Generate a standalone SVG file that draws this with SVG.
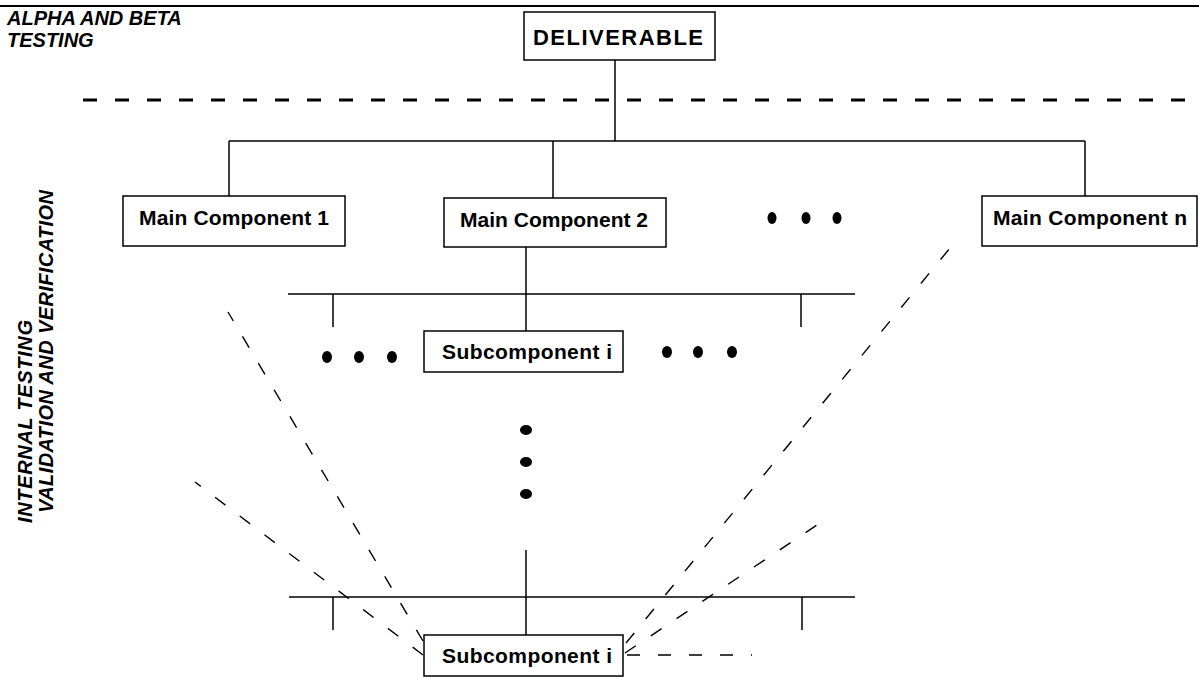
<svg xmlns="http://www.w3.org/2000/svg" width="1199" height="677" viewBox="0 0 1199 677">
<style>
.bg{fill:#fff}
.box{fill:#fff;stroke:#000;stroke-width:1.5}
.ln{stroke:#000;stroke-width:1.5;fill:none}
.dl{stroke:#000;stroke-width:1.4;fill:none;stroke-dasharray:13 18}
.tk{stroke:#000;stroke-width:3;fill:none;stroke-dasharray:14 18}
.t{font-family:"Liberation Sans",Arial,sans-serif;font-weight:bold;font-size:21px;fill:#000}
.big{font-size:22px}
.it{font-family:"Liberation Sans",Arial,sans-serif;font-weight:bold;font-style:italic;font-size:20px;fill:#000}
.dot{fill:#000}
</style>
<rect class="bg" x="0" y="0" width="1199" height="677"/>
<line x1="0" y1="6" x2="1199" y2="6" stroke="#000" stroke-width="2"/>
<line class="tk" x1="83" y1="100" x2="1199" y2="100"/>
<g id="labels">
<text class="it" x="7" y="25">ALPHA AND BETA</text>
<text class="it" x="7" y="47">TESTING</text>
<text class="it" transform="translate(32,523) rotate(-90)" textLength="203" lengthAdjust="spacing">INTERNAL TESTING</text>
<text class="it" transform="translate(53,513) rotate(-90)" textLength="323" lengthAdjust="spacing">VALIDATION AND VERIFICATION</text>
</g>
<g id="connectors">
<line class="ln" x1="615" y1="60" x2="615" y2="141"/>
<line class="ln" x1="229" y1="141" x2="1085" y2="141"/>
<line class="ln" x1="229" y1="141" x2="229" y2="196"/>
<line class="ln" x1="553" y1="141" x2="553" y2="198"/>
<line class="ln" x1="1085" y1="141" x2="1085" y2="196"/>
<line class="ln" x1="526" y1="247" x2="526" y2="331"/>
<line class="ln" x1="288" y1="294" x2="855" y2="294"/>
<line class="ln" x1="333" y1="294" x2="333" y2="327"/>
<line class="ln" x1="801" y1="294" x2="801" y2="327"/>
<line class="ln" x1="526" y1="550" x2="526" y2="635"/>
<line class="ln" x1="289" y1="597" x2="855" y2="597"/>
<line class="ln" x1="333" y1="597" x2="333" y2="630"/>
<line class="ln" x1="802" y1="597" x2="802" y2="630"/>
<line class="dl" x1="423" y1="641" x2="228" y2="312"/>
<line class="dl" x1="423" y1="655" x2="195" y2="482"/>
<line class="dl" x1="626" y1="643" x2="950" y2="248"/>
<line class="dl" x1="625" y1="653" x2="820" y2="523"/>
<line class="dl" x1="627" y1="655" x2="752" y2="655"/>
</g>
<g id="dots">
<ellipse class="dot" cx="772" cy="218" rx="4.5" ry="6"/>
<ellipse class="dot" cx="806" cy="218" rx="4.5" ry="6"/>
<ellipse class="dot" cx="837" cy="218" rx="4.5" ry="6"/>
<ellipse class="dot" cx="327" cy="357" rx="5" ry="6"/>
<ellipse class="dot" cx="359" cy="357" rx="5" ry="6"/>
<ellipse class="dot" cx="392" cy="357" rx="5" ry="6"/>
<ellipse class="dot" cx="667" cy="352" rx="5" ry="6"/>
<ellipse class="dot" cx="698" cy="352" rx="5" ry="6"/>
<ellipse class="dot" cx="732" cy="352" rx="5" ry="6"/>
<ellipse class="dot" cx="526" cy="430" rx="6" ry="5"/>
<ellipse class="dot" cx="526" cy="462" rx="6" ry="5"/>
<ellipse class="dot" cx="526" cy="494" rx="6" ry="5"/>
</g>
<g id="deliverable">
<rect class="box" x="524" y="12" width="191" height="48"/>
<text class="t big" x="533" y="45" textLength="170" lengthAdjust="spacing">DELIVERABLE</text>
</g>
<g id="main1">
<rect class="box" x="123" y="196" width="222" height="50"/>
<text class="t" x="139" y="225" textLength="190" lengthAdjust="spacing">Main Component  1</text>
</g>
<g id="main2">
<rect class="box" x="444" y="198" width="222" height="49"/>
<text class="t" x="460" y="227" textLength="188" lengthAdjust="spacing">Main Component  2</text>
</g>
<g id="mainn">
<rect class="box" x="982" y="196" width="215" height="50"/>
<text class="t" x="993" y="225" textLength="194" lengthAdjust="spacing">Main Component  n</text>
</g>
<g id="sub1">
<rect class="box" x="424" y="331" width="199" height="41"/>
<text class="t" x="442" y="359" textLength="170" lengthAdjust="spacing">Subcomponent  i</text>
</g>
<g id="sub2">
<rect class="box" x="424" y="635" width="199" height="41"/>
<text class="t" x="442" y="663" textLength="170" lengthAdjust="spacing">Subcomponent  i</text>
</g>
</svg>
